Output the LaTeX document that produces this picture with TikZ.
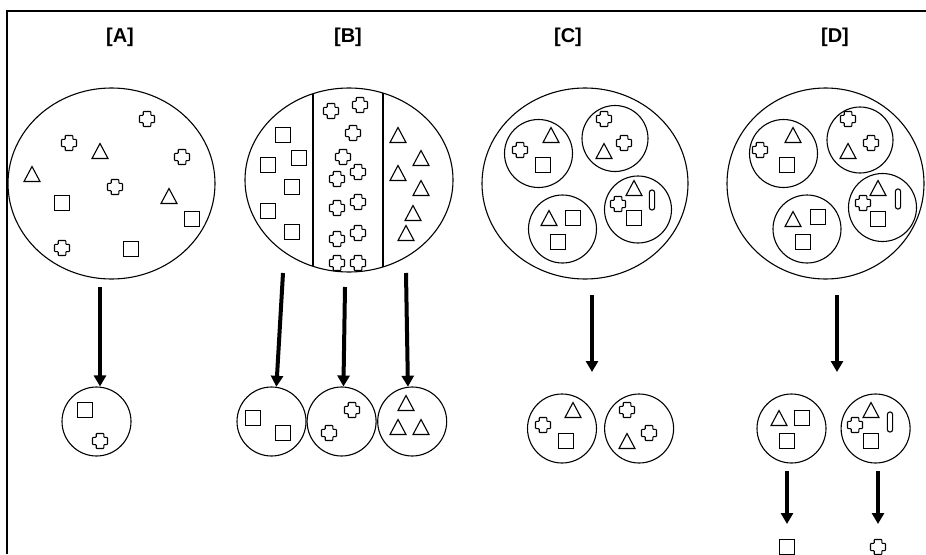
\documentclass[tikz,border=0pt]{standalone}
\usepackage{fontspec}
\setmainfont{Liberation Sans}
\usepackage{tikz}
\usetikzlibrary{arrows.meta}
\usetikzlibrary{shapes.geometric}
\usetikzlibrary{positioning}

\tikzset{
  sqshape/.pic={\draw (-7.5,-7.5) rectangle (7.5,7.5);},
  trishape/.pic={\draw (-8,7.5) -- (0,-7.5) -- (8,7.5) -- cycle;},
  plusshape/.pic={\draw[rounded corners=0.7pt] (-3.8,-7.5) -- (3.8,-7.5) -- (3.8,-3.6) -- (7.5,-3.6) -- (7.5,3.6) -- (3.8,3.6) -- (3.8,7.5) -- (-3.8,7.5) -- (-3.8,3.6) -- (-7.5,3.6) -- (-7.5,-3.6) -- (-3.8,-3.6) -- cycle;},
  pillshape/.pic={\draw[rounded corners=2.4pt] (-2.6,-10) rectangle (2.6,10);}
}

\begin{document}
\begin{tikzpicture}[x=1pt, y=-1pt, >={Triangle[length=11pt,width=12pt]}, line width=1.1pt]
    \tikzstyle{bigblob}=[ellipse, draw, inner sep=0pt]
    \tikzstyle{blob}=[circle, draw, minimum size=69pt, inner sep=0pt]
    \tikzstyle{flow}=[->, line width=4pt]
    \tikzstyle{tag}=[font=\fontsize{20}{24}\selectfont\bfseries]

    \useasboundingbox (0,0) rectangle (926,554);
    \draw[line width=2pt] (7,554) -- (7,11) -- (926,11);

    % column labels
    \node[tag] (labA) at (120,37) {[A]};
    \node[tag] (labB) at (348,37) {[B]};
    \node[tag] (labC) at (568,37) {[C]};
    \node[tag] (labD) at (835,37) {[D]};

    % populations
    \node[bigblob, minimum width=207pt, minimum height=191pt] (ellA) at (111.5,183.5) {};
    \node[bigblob, minimum width=208pt, minimum height=184pt] (ellB) at (349,180) {};
    \node[bigblob, minimum width=206pt, minimum height=191pt] (ellC) at (585,183.5) {};
    \node[bigblob, minimum width=197pt, minimum height=191pt] (ellD) at (825.5,183.5) {};

    % [A]
    \foreach \x/\y in {147/119, 69/143, 182/157, 115/187, 62/248} \pic at (\x,\y) {plusshape};
    \foreach \x/\y in {100/151, 32/174, 169/196} \pic at (\x,\y) {trishape};
    \foreach \x/\y in {62/203, 192/219, 131/249} \pic at (\x,\y) {sqshape};

    % [B]
    \draw (313,93.7) -- (313,266.3);
    \draw (383,93.1) -- (383,266.9);
    \foreach \x/\y in {283/135, 299/158, 268/165, 292/187, 268/211, 292/232} \pic at (\x,\y) {sqshape};
    \foreach \x/\y in {331/111, 360/105, 353/133, 343/157, 358/172, 337/179, 358/202, 337/208, 358/233, 337/239, 337/263, 358/263} \pic at (\x,\y) {plusshape};
    \foreach \x/\y in {398/135, 421/158, 398/173, 421/188, 413/213, 406/233} \pic at (\x,\y) {trishape};

    % [C]
    \node[blob, minimum size=68pt] (cC1) at (538.5,153.5) {};
    \node[blob, minimum size=66pt] (cC2) at (615,138.5) {};
    \node[blob, minimum size=68pt] (cC3) at (562.5,229) {};
    \node[blob, minimum size=67pt] (cC4) at (638,209.5) {};
    \foreach \x/\y in {520/150, 604/119, 624/143, 618/204} \pic at (\x,\y) {plusshape};
    \foreach \x/\y in {551/135, 604/151, 549/218, 634/188} \pic at (\x,\y) {trishape};
    \foreach \x/\y in {543/165, 573/218, 558/242, 634/218} \pic at (\x,\y) {sqshape};
    \pic at (652,200) {pillshape};

    % [D]
    \node[blob, minimum size=68pt] (cD1) at (783.5,153.5) {};
    \node[blob, minimum size=66pt] (cD2) at (860,140) {};
    \node[blob, minimum size=68pt] (cD3) at (807,229) {};
    \node[blob, minimum size=68pt] (cD4) at (882.5,207.5) {};
    \foreach \x/\y in {760/150, 848/119, 871/143, 863/203} \pic at (\x,\y) {plusshape};
    \foreach \x/\y in {793/135, 848/151, 793/219, 878/188} \pic at (\x,\y) {trishape};
    \foreach \x/\y in {787/165, 818/217, 803/242, 878/219} \pic at (\x,\y) {sqshape};
    \pic at (898,199) {pillshape};

    % samples
    \node[blob] (resA) at (96.5,421.5) {};
    \node[blob] (resB1) at (271.5,421.5) {};
    \node[blob] (resB2) [right=0pt of resB1] {};
    \node[blob] (resB3) [right=0.5pt of resB2] {};
    \node[blob] (resC1) at (562,428.5) {};
    \node[blob] (resC2) [right=7pt of resC1] {};
    \node[blob] (resD1) at (791.5,428.5) {};
    \node[blob] (resD2) [right=14pt of resD1] {};

    \pic at (85,410) {sqshape};
    \pic at (100,441) {plusshape};
    \pic at (253,418) {sqshape};
    \pic at (283,433) {sqshape};
    \pic at (352,410) {plusshape};
    \pic at (329,433) {plusshape};
    \foreach \x/\y in {406/403, 398/427, 421/427} \pic at (\x,\y) {trishape};
    \pic at (543,425) {plusshape};
    \pic at (573,410) {trishape};
    \pic at (566,441) {sqshape};
    \pic at (627,410) {plusshape};
    \pic at (649,433) {plusshape};
    \pic at (627,441) {trishape};
    \pic at (779,418) {trishape};
    \pic at (802,418) {sqshape};
    \pic at (787,441) {sqshape};
    \pic at (871,410) {trishape};
    \pic at (890,422) {pillshape};
    \pic at (855,425) {plusshape};
    \pic at (871,441) {sqshape};
    \pic at (787,547) {sqshape};
    \pic at (878,547) {plusshape};

    % arrows
    \coordinate (topA) at (100,287);
    \coordinate (topB1) at (283,273);
    \coordinate (topB2) at (345,287);
    \coordinate (topB3) at (406,273);
    \coordinate (topC) at (592,295);
    \coordinate (endC) at (592,372);
    \coordinate (topD) at (837,295);
    \coordinate (endD) at (837,372);
    \coordinate (outD1) at (787,471);
    \coordinate (endD1) at (787,524);
    \coordinate (outD2) at (878,471);
    \coordinate (endD2) at (878,524);

    \path (topA) edge[flow] (topA |- resA.north)
        (topB1) edge[flow] (resB1.82)
        (topB2) edge[flow] (resB2.87)
        (topB3) edge[flow] (resB3.97)
        (topC) edge[flow] (endC)
        (topD) edge[flow] (endD)
        (outD1) edge[flow] (endD1)
        (outD2) edge[flow] (endD2)
    ;
\end{tikzpicture}
\end{document}
